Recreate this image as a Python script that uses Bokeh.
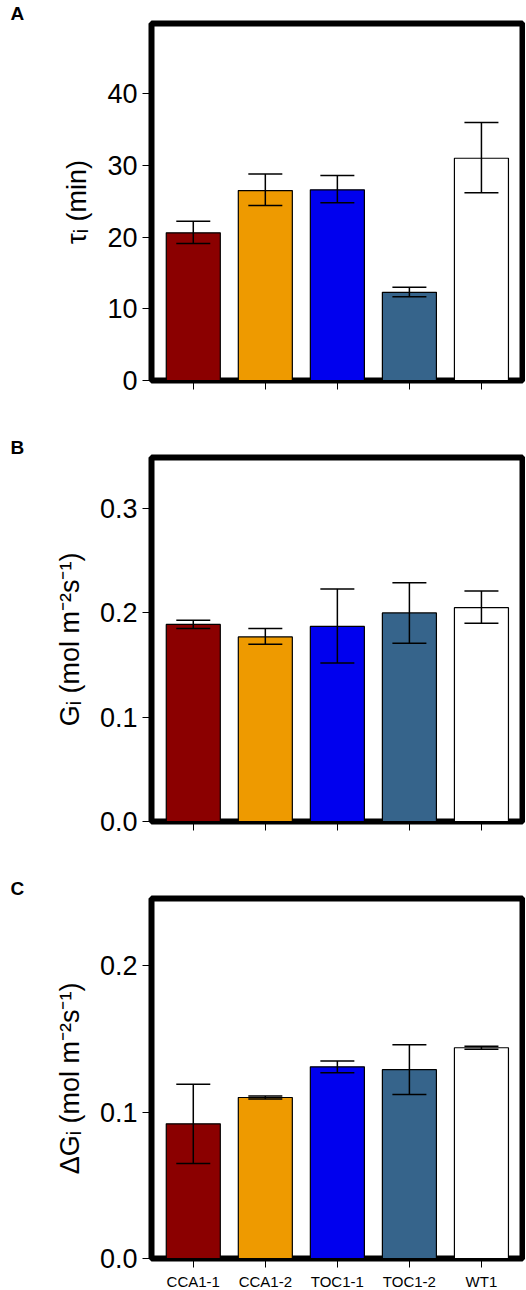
from bokeh.embed import file_html
from bokeh.resources import INLINE
from bokeh.layouts import column
from bokeh.models import ColumnDataSource, Whisker, Range1d, FixedTicker
from bokeh.plotting import figure

lines = ["CCA1-1", "CCA1-2", "TOC1-1", "TOC1-2", "WT1"]
colors = ["#8B0000", "#EE9A00", "#0000EE", "#36648B", "#FFFFFF"]

tau_mean = [20.6, 26.5, 26.6, 12.3, 31.0]
tau_low = [19.1, 24.4, 24.8, 11.7, 26.2]
tau_high = [22.2, 28.8, 28.6, 13.0, 36.0]

g_mean = [0.189, 0.177, 0.187, 0.200, 0.205]
g_low = [0.185, 0.170, 0.152, 0.171, 0.190]
g_high = [0.193, 0.185, 0.223, 0.229, 0.221]

dg_mean = [0.092, 0.110, 0.131, 0.129, 0.144]
dg_low = [0.065, 0.109, 0.127, 0.112, 0.143]
dg_high = [0.119, 0.111, 0.135, 0.146, 0.145]

FONT = "Liberation Sans"


def panel(letter, mean, low, high, ymax, ticks, tick_fmt, ylabel, height, bottom, show_names):
    p = figure(frame_width=371, frame_height=height, min_border_left=151, min_border_right=3,
               min_border_top=0, min_border_bottom=bottom,
               x_range=Range1d(0.42, 5.57), y_range=Range1d(0, ymax),
               output_backend="svg", toolbar_location=None)
    x = list(range(1, len(lines) + 1))
    src = ColumnDataSource(dict(x=x, top=mean, lower=low, upper=high, color=colors))
    p.vbar(x="x", top="top", width=0.75, fill_color="color", line_color="black",
           line_width=1.2, source=src)
    w = Whisker(base="x", lower="lower", upper="upper", source=src, line_width=1.5,
                level="overlay")
    for head in (w.upper_head, w.lower_head):
        head.size = 34
        head.line_width = 1.5
    p.add_layout(w)

    p.title.text = letter
    p.title.text_font = FONT
    p.title.text_font_size = "19px"
    p.title.text_font_style = "bold"
    p.title.text_color = "black"
    p.title.offset = -141
    p.title.standoff = 0

    p.outline_line_color = "black"
    p.outline_line_width = 6
    p.grid.visible = False

    for ax in (p.xaxis, p.yaxis):
        ax.major_label_text_font = FONT
        ax.major_label_text_color = "black"
        ax.major_tick_out = 9
        ax.major_tick_in = 0
        ax.minor_tick_line_color = None
        ax.axis_line_color = "black"
        ax.major_tick_line_color = "black"

    p.yaxis.ticker = FixedTicker(ticks=ticks)
    p.yaxis.major_label_overrides = {t: tick_fmt.format(t) for t in ticks}
    p.yaxis.major_label_text_font_size = "27px"
    p.yaxis.axis_label = ylabel
    p.yaxis.axis_label_text_font = FONT
    p.yaxis.axis_label_text_font_size = "27px"
    p.yaxis.axis_label_text_font_style = "normal"
    p.yaxis.axis_label_text_color = "black"
    p.yaxis.axis_label_standoff = 12

    p.xaxis.ticker = FixedTicker(ticks=x)
    if show_names:
        p.xaxis.major_label_overrides = {i: n for i, n in zip(x, lines)}
    else:
        p.xaxis.major_label_overrides = {i: "" for i in x}
    p.xaxis.major_label_text_font_size = "15px"
    return p


pa = panel("A", tau_mean, tau_low, tau_high, 49.8, [0, 10, 20, 30, 40], "{:.0f}",
           "τᵢ (min)", 357, 54, False)
pb = panel("B", g_mean, g_low, g_high, 0.349, [0.0, 0.1, 0.2, 0.3], "{:.1f}",
           "Gᵢ (mol m⁻²s⁻¹)", 364, 54, False)
pc = panel("C", dg_mean, dg_low, dg_high, 0.246, [0.0, 0.1, 0.2], "{:.1f}",
           "ΔGᵢ (mol m⁻²s⁻¹)", 360, 32, True)

layout = column(pa, pb, pc, spacing=0)
open("out.html", "w").write(file_html(layout, INLINE))
